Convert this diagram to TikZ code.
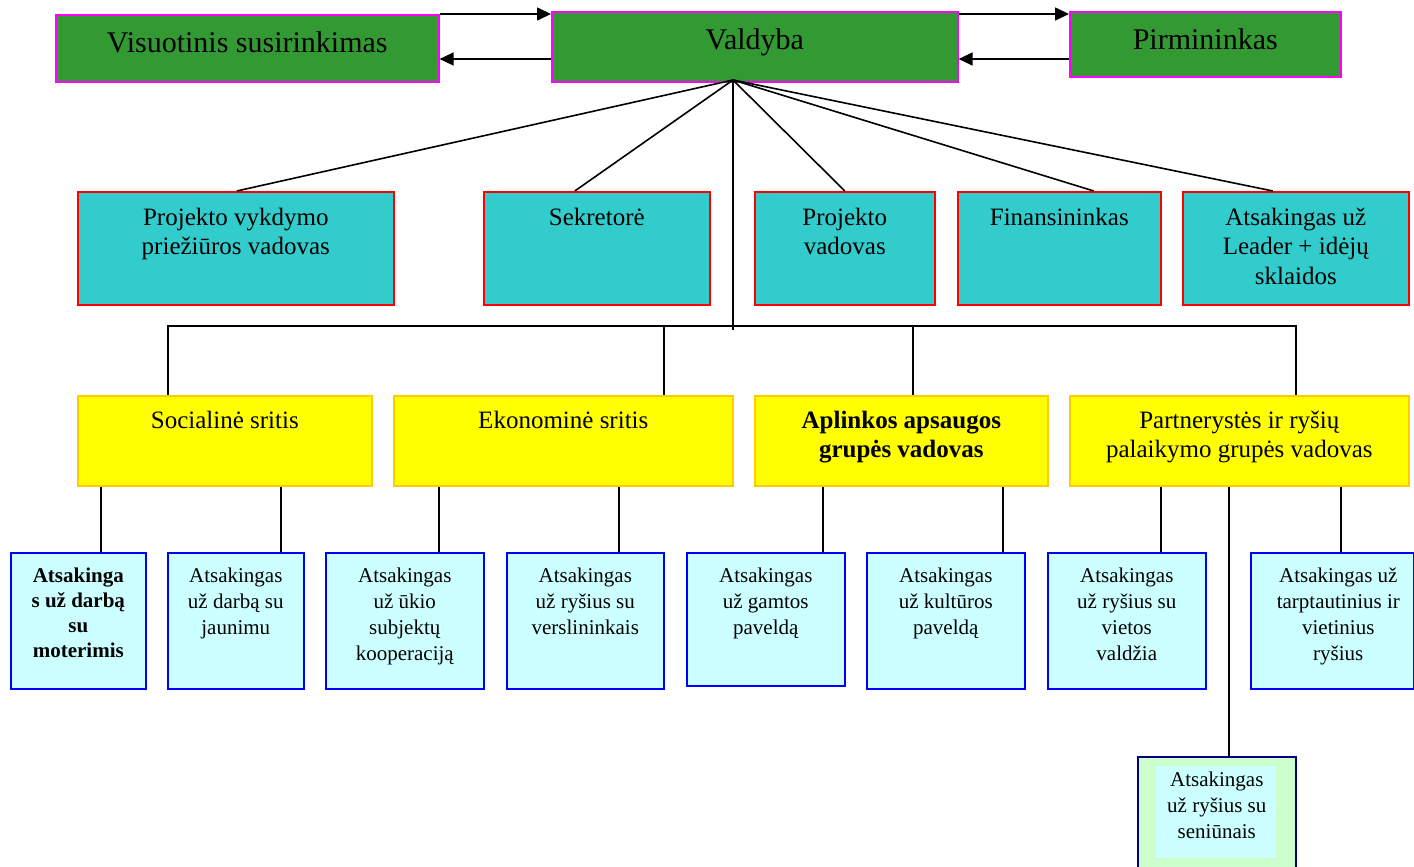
\documentclass[tikz,border=0pt]{standalone}
\usepackage{fontspec}
\setmainfont{Liberation Serif}
\usetikzlibrary{arrows.meta}
\definecolor{dgreen}{HTML}{339933}
\definecolor{magentab}{HTML}{FF00FF}
\definecolor{tealc}{HTML}{33CCCC}
\definecolor{redb}{HTML}{FF0000}
\definecolor{yell}{HTML}{FFFF00}
\definecolor{goldb}{HTML}{FFCC00}
\definecolor{lcyan}{HTML}{CCFFFF}
\definecolor{blueb}{HTML}{0000FF}
\definecolor{navyb}{HTML}{000080}
\definecolor{lgreen}{HTML}{CCFFCC}
\tikzset{
  boxbase/.style={draw, line width=1.6pt, inner sep=0pt, anchor=north west},
  topbox/.style={boxbase, fill=dgreen, draw=magentab},
  midbox/.style={boxbase, fill=tealc, draw=redb},
  yelbox/.style={boxbase, fill=yell, draw=goldb},
  lowbox/.style={boxbase, fill=lcyan, draw=blueb},
  t29/.style={font=\fontsize{30}{35}\selectfont, inner sep=0pt, anchor=base},
  t25/.style={font=\fontsize{25}{29.5}\selectfont, inner sep=0pt, anchor=north, align=center},
  t21/.style={font=\fontsize{21}{26}\selectfont, inner sep=0pt, anchor=north, align=center},
  conn/.style={line width=1.6pt, black},
  arr/.style={conn, -{Triangle[length=14pt,width=13pt]}}
}
\begin{document}
\begin{tikzpicture}[x=1pt,y=-1pt]
\useasboundingbox (0,0) rectangle (1414,867);
\clip (0,0) rectangle (1414,867);
\fill[white] (0,0) rectangle (1414,867);

% top row
\node[topbox, minimum width=383pt, minimum height=67pt] (vis) at (55,14) {};
\node[topbox, minimum width=406pt, minimum height=70pt] (val) at (551,11) {};
\node[topbox, minimum width=271pt, minimum height=65pt] (pir) at (1069,11) {};
\node[t29] (visT) at ([yshift=-39pt]vis.north) {Visuotinis susirinkimas};
\node[t29] (valT) at ([yshift=-39pt]val.north) {Valdyba};
\node[t29] (pirT) at ([yshift=-39pt]pir.north) {Pirmininkas};

% arrows
\draw[arr] (vis.north east) -- (vis.north east -| val.west);
\draw[arr] ([yshift=-48pt]val.north west) -- ([yshift=-48pt]val.north west -| vis.east);
\draw[arr] ([yshift=-3pt]val.north east) -- ([yshift=-3pt]val.north east -| pir.west);
\draw[arr] ([yshift=-48pt]pir.north west) -- ([yshift=-48pt]pir.north west -| val.east);

% middle row
\node[midbox, minimum width=316pt, minimum height=113pt] (c1) at (77,191) {};
\node[midbox, minimum width=226pt, minimum height=113pt] (c2) at (483,191) {};
\node[midbox, minimum width=180pt, minimum height=113pt] (c3) at (754,191) {};
\node[midbox, minimum width=203pt, minimum height=113pt] (c4) at (957,191) {};
\node[midbox, minimum width=226pt, minimum height=113pt] (c5) at (1182,191) {};
\node[t25] (c1T) at ([yshift=-16.5pt]c1.north) {Projekto vykdymo\\priežiūros vadovas};
\node[t25] (c2T) at ([yshift=-16.5pt]c2.north) {Sekretorė};
\node[t25] (c3T) at ([yshift=-16.5pt]c3.north) {Projekto\\vadovas};
\node[t25] (c4T) at ([yshift=-16.5pt]c4.north) {Finansininkas};
\node[t25] (c5T) at ([yshift=-16.5pt]c5.north) {Atsakingas už\\Leader + idėjų\\sklaidos};

% hub lines
\coordinate (hub) at (733,80);
\draw[conn] (hub) -- ([xshift=1pt]c1.north);
\draw[conn] (hub) -- ([xshift=-22pt]c2.north);
\draw[conn] (hub) -- (c3.north);
\draw[conn] (hub) -- ([xshift=34.5pt]c4.north);
\draw[conn] (hub) -- ([xshift=-23pt]c5.north);
\coordinate (bus) at (733,326);
\coordinate (busend) at (733,330);
\draw[conn] (hub) -- (busend);

% yellow row
\node[yelbox, minimum width=294pt, minimum height=90pt] (y1) at (77,395) {};
\node[yelbox, minimum width=339pt, minimum height=90pt] (y2) at (393,395) {};
\node[yelbox, minimum width=293pt, minimum height=90pt] (y3) at (754,395) {};
\node[yelbox, minimum width=339pt, minimum height=90pt] (y4) at (1069,395) {};
\node[t25] (y1T) at ([yshift=-15.5pt]y1.north) {Socialinė sritis};
\node[t25] (y2T) at ([yshift=-15.5pt]y2.north) {Ekonominė sritis};
\node[t25, font=\fontsize{25}{29.5}\selectfont\bfseries] (y3T) at ([yshift=-15.5pt]y3.north) {Aplinkos apsaugos\\grupės vadovas};
\node[t25] (y4T) at ([yshift=-15.5pt]y4.north) {Partnerystės ir ryšių\\palaikymo grupės vadovas};

\draw[conn] ([xshift=-57pt]y1.north) |- (bus) -| ([xshift=56.5pt]y4.north);
\draw[conn] ([xshift=100.5pt]y2.north) -- ([xshift=100.5pt]y2.north |- bus);
\draw[conn] ([xshift=11.5pt]y3.north) -- ([xshift=11.5pt]y3.north |- bus);

% bottom row
\node[lowbox, minimum width=135pt, minimum height=136pt] (b1) at (10,552) {};
\node[lowbox, minimum width=136pt, minimum height=136pt] (b2) at (167,552) {};
\node[lowbox, minimum width=158pt, minimum height=136pt] (b3) at (325,552) {};
\node[lowbox, minimum width=157pt, minimum height=136pt] (b4) at (506,552) {};
\node[lowbox, minimum width=158pt, minimum height=133pt] (b5) at (686,552) {};
\node[lowbox, minimum width=158pt, minimum height=136pt] (b6) at (866,552) {};
\node[lowbox, minimum width=158pt, minimum height=136pt] (b7) at (1047,552) {};
\node[lowbox, minimum width=163pt, minimum height=136pt] (b8) at (1250,552) {};
\node[t21, font=\fontsize{21}{25}\selectfont\bfseries] (b1T) at ([yshift=-16pt]b1.north) {Atsakinga\\s už darbą\\su\\moterimis};
\node[t21] (b2T) at ([yshift=-16pt]b2.north) {Atsakingas\\už darbą su\\jaunimu};
\node[t21] (b3T) at ([yshift=-16pt]b3.north) {Atsakingas\\už ūkio\\subjektų\\kooperaciją};
\node[t21] (b4T) at ([yshift=-16pt]b4.north) {Atsakingas\\už ryšius su\\verslininkais};
\node[t21] (b5T) at ([yshift=-16pt]b5.north) {Atsakingas\\už gamtos\\paveldą};
\node[t21] (b6T) at ([yshift=-16pt]b6.north) {Atsakingas\\už kultūros\\paveldą};
\node[t21] (b7T) at ([yshift=-16pt]b7.north) {Atsakingas\\už ryšius su\\vietos\\valdžia};
\node[t21] (b8T) at ([xshift=6pt,yshift=-16pt]b8.north) {Atsakingas už\\tarptautinius ir\\vietinius\\ryšius};

% green bottom box
\node[boxbase, fill=lgreen, draw=navyb, minimum width=158pt, minimum height=130pt] (g) at (1137,756) {};
\node[anchor=north west, fill=lcyan, inner sep=0pt, minimum width=120pt, minimum height=92pt] (gi) at (1156,766) {};
\node[t21] (gT) at ([yshift=-16pt]g.north) {Atsakingas\\už ryšius su\\seniūnais};

% lower connectors
\draw[conn] ([xshift=22.5pt]b1.north) -- ([xshift=22.5pt]b1.north |- y1.south);
\draw[conn] ([xshift=45pt]b2.north) -- ([xshift=45pt]b2.north |- y1.south);
\draw[conn] ([xshift=34pt]b3.north) -- ([xshift=34pt]b3.north |- y2.south);
\draw[conn] ([xshift=33.5pt]b4.north) -- ([xshift=33.5pt]b4.north |- y2.south);
\draw[conn] ([xshift=57pt]b5.north) -- ([xshift=57pt]b5.north |- y3.south);
\draw[conn] ([xshift=57pt]b6.north) -- ([xshift=57pt]b6.north |- y3.south);
\draw[conn] ([xshift=34pt]b7.north) -- ([xshift=34pt]b7.north |- y4.south);
\draw[conn] ([xshift=8.5pt]b8.north) -- ([xshift=8.5pt]b8.north |- y4.south);
\draw[conn] ([xshift=12pt]g.north) -- ([xshift=12pt]g.north |- y4.south);
\end{tikzpicture}
\end{document}
